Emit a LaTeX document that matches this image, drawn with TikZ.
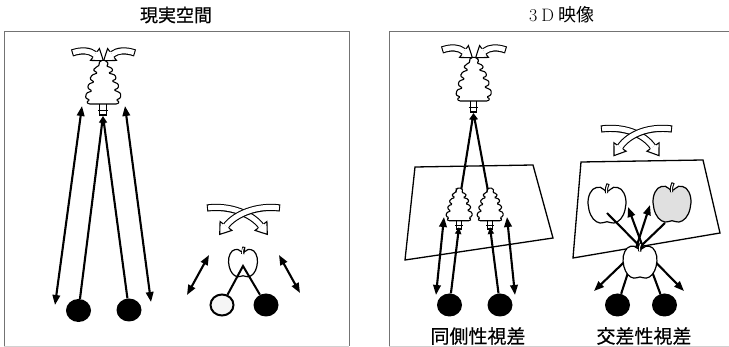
\documentclass[tikz,border=0pt]{standalone}
\usepackage{fontspec}
\newfontfamily\jpfont{Noto Sans CJK JP}
\newfontfamily\jpheavy{Noto Sans CJK JP}[FakeBold=0.7]
\newfontfamily\jpmedium{Noto Sans CJK JP}[FakeBold=0.35]
\usetikzlibrary{arrows.meta,decorations.markings,shapes.geometric}

% head of a hollow block arrow, drawn in the frame of the path end
\newcommand{\blockhead}{%
  \fill[white] (0pt,-7.4pt) -- (10.5pt,0pt) -- (0pt,7.4pt) -- cycle;
  \draw[line width=1.1pt, line join=miter]
    (0pt,3.6pt) -- (0pt,7.4pt) -- (10.5pt,0pt) -- (0pt,-7.4pt) -- (0pt,-3.6pt);
}
% hollow curved block arrow along the given path
\newcommand{\hollowarrow}[1]{%
  \draw[bandout] #1;
  \draw[bandin] #1;
  \path[decorate, decoration={markings, mark=at position 1 with {\blockhead}}] #1;
}

\tikzset{
  panel/.style={draw=black!55, line width=1pt},
  panelfoot/.style={draw=black!18, line width=0.8pt},
  bandout/.style={line width=7.2pt, black},
  bandin/.style={line width=5pt, white, shorten <=1.1pt},
  sight/.style={line width=2.1pt, -{Triangle[length=7pt,width=6pt]}},
  longsight/.style={line width=2.1pt, -{Triangle[length=10pt,width=7.5pt]}},
  dblarrow/.style={line width=2.1pt,
    {Triangle[length=10pt,width=7.5pt]}-{Triangle[length=10pt,width=7.5pt]}},
  eye/.style={ellipse, fill=black, minimum width=25pt, minimum height=23pt, inner sep=0pt},
  openeye/.style={ellipse, draw=black, line width=2pt, fill=black!4,
    minimum width=23pt, minimum height=21pt, inner sep=0pt},
  screen/.style={line width=1.3pt, line join=miter},
  title/.style={font=\jpheavy\fontsize{18}{18}\selectfont},
  title3d/.style={font=\jpfont\fontsize{18}{18}\selectfont},
  caption/.style={font=\jpmedium\fontsize{19}{19}\selectfont},
  pics/conifer/.style={code={
    \draw[fill=white, line width=1.1pt] (-3,-12) rectangle (3,0);
    \draw[line width=1pt] (-4.5,-4) -- (4.5,-4);
    \draw[fill=white, line width=1.1pt, rounded corners=1.1pt]
      (0,-55) -- (3,-54) -- (5,-51) -- (3,-49) -- (8,-47) -- (9,-44) -- (5,-42)
      -- (11,-40) -- (12,-36) -- (8,-34) -- (14,-31) -- (14,-27) -- (10,-25)
      -- (16,-22) -- (16,-17) -- (12,-15) -- (15,-13) -- (13,-11) -- (-13,-11)
      -- (-15,-13) -- (-12,-15) -- (-16,-17) -- (-15,-22) -- (-10,-24) -- (-14,-27)
      -- (-13,-31) -- (-8,-33) -- (-12,-36) -- (-10,-40) -- (-5,-42) -- (-9,-45)
      -- (-6,-48) -- (-3,-50) -- (-4,-52) -- (-2,-54) -- cycle;
  }},
  pics/applefruit/.style={code={
    \draw[line width=1.2pt, fill=#1] plot[smooth cycle, tension=0.65] coordinates {
      (0,-0.72) (0.35,-0.93) (0.75,-0.82) (0.98,-0.35) (0.95,0.25) (0.72,0.74)
      (0.36,0.95) (0,0.88) (-0.36,0.95) (-0.72,0.74) (-0.95,0.25) (-0.98,-0.35)
      (-0.75,-0.82) (-0.35,-0.93)};
    \draw[line width=3.2pt] (-0.02,-0.62) .. controls (-0.03,-0.9) .. (0.06,-1.12);
    \draw[line width=1.1pt, white, shorten >=1.1pt] (-0.02,-0.62) .. controls (-0.03,-0.9) .. (0.06,-1.12);
  }},
}

\begin{document}
\begin{tikzpicture}[x=1pt, y=-1pt]
\useasboundingbox (0,0) rectangle (729,347);

% ---------- frames and headings ----------
\draw[panel] (4,346) -- (4,32) -- (349,32) -- (349,346);
\draw[panelfoot] (4,346) -- (349,346);
\draw[panel] (389,346) -- (389,32) -- (729,32);
\draw[panelfoot] (389,346) -- (729,346);
\node[title] (realtitle) at (176,15) {現実空間};
\node[title3d] (imgtitle) at (562,15) {{\rmfamily 3\hspace{4pt}D}\hspace{5pt}映像};

% ---------- real space: distant tree ----------
\hollowarrow{(72,53) .. controls (81,50) and (89,50) .. (95,54.5)}
\hollowarrow{(135,53) .. controls (126,50) and (118,50) .. (112,54.5)}
\pic[xscale=1.1] at (103,115) {conifer};
\coordinate (treeL) at (103,116);
\node[eye] (eyeL1) at (78.5,310.5) {};
\node[eye] (eyeL2) at (129,310) {};
\draw[sight] (eyeL1) -- (treeL);
\draw[sight] (eyeL2) -- (treeL);
\coordinate (dL1a) at (55,305);  \coordinate (dL1b) at (82,106);
\coordinate (dL2a) at (151,302); \coordinate (dL2b) at (125,106);
\draw[dblarrow] (dL1a) -- (dL1b);
\draw[dblarrow] (dL2a) -- (dL2b);

% ---------- real space: near apple ----------
\hollowarrow{(207,208) .. controls (230,205) and (252,214) .. (261,226)}
\hollowarrow{(280,208) .. controls (257,205) and (235,214) .. (226,226)}
\pic[scale=14.5] at (243,263) {applefruit=white};
\node[openeye] (eyeA1) at (222,305) {};
\node[eye] (eyeA2) at (266,305) {};
\coordinate (appleL) at (243,266);
\draw[line width=2pt, line join=miter] (eyeA1) -- (appleL) -- (eyeA2);
\coordinate (dA1a) at (187,295); \coordinate (dA1b) at (209,255);
\coordinate (dA2a) at (300,293); \coordinate (dA2b) at (279,255);
\draw[dblarrow] (dA1a) -- (dA1b);
\draw[dblarrow] (dA2a) -- (dA2b);

% ---------- 3D image: uncrossed disparity ----------
\draw[screen] (415,167) -- (533,165) -- (553,238) -- (405,260) -- cycle;
\hollowarrow{(442,50) .. controls (451,47) and (458,47) .. (464,51.5)}
\hollowarrow{(506,50) .. controls (497,47) and (490,47) .. (484,51.5)}
\pic[xscale=1.1] at (473.5,112) {conifer};
\coordinate (treeR) at (473.5,113);
\coordinate (tipS1) at (461,191);
\coordinate (tipS2) at (488,191);
\draw[sight] (tipS1) -- (treeR);
\draw[sight] (tipS2) -- (treeR);
\pic[xscale=0.82, yscale=0.75] at (459,229) {conifer};
\pic[xscale=0.82, yscale=0.75] at (490,229) {conifer};
\coordinate (baseS1) at (459,227);
\coordinate (baseS2) at (490,227);
\node[eye] (eyeR1) at (449.5,305) {};
\node[eye] (eyeR2) at (500,305) {};
\draw[sight] (eyeR1) -- (baseS1);
\draw[sight] (eyeR2) -- (baseS2);
\coordinate (dR1a) at (436,295); \coordinate (dR1b) at (444,217);
\coordinate (dR2a) at (515,295); \coordinate (dR2b) at (507,217);
\draw[dblarrow] (dR1a) -- (dR1b);
\draw[dblarrow] (dR2a) -- (dR2b);
\node[caption] (uncrossed) at (478,336) {同側性視差};

% ---------- 3D image: crossed disparity ----------
\draw[screen] (581,162) -- (703,160) -- (720,233) -- (573,258) -- cycle;
\hollowarrow{(601,129) .. controls (624,126) and (644,134) .. (653,147)}
\hollowarrow{(672,129) .. controls (649,126) and (629,134) .. (620,147)}
\pic[scale=19] at (607,205) {applefruit=white};
\pic[scale=19] at (672,204) {applefruit=black!12};
\node[eye] (eyeC1) at (617.5,305) {};
\node[eye] (eyeC2) at (664.5,305) {};
\coordinate (onR) at (650,205);
\coordinate (onL) at (628,207);
\coordinate (fromL) at (607,213);
\coordinate (fromR) at (665,223);
\coordinate (outR) at (684,291);
\coordinate (outL) at (594,291);
\draw[longsight] (eyeC1) -- (onR);
\draw[longsight] (eyeC2) -- (onL);
\draw[longsight] (fromL) -- (outR);
\draw[longsight] (fromR) -- (outL);
\pic[scale=17] at (640,262) {applefruit=white};
\node[caption] (crossed) at (644,336) {交差性視差};
\end{tikzpicture}
\end{document}
